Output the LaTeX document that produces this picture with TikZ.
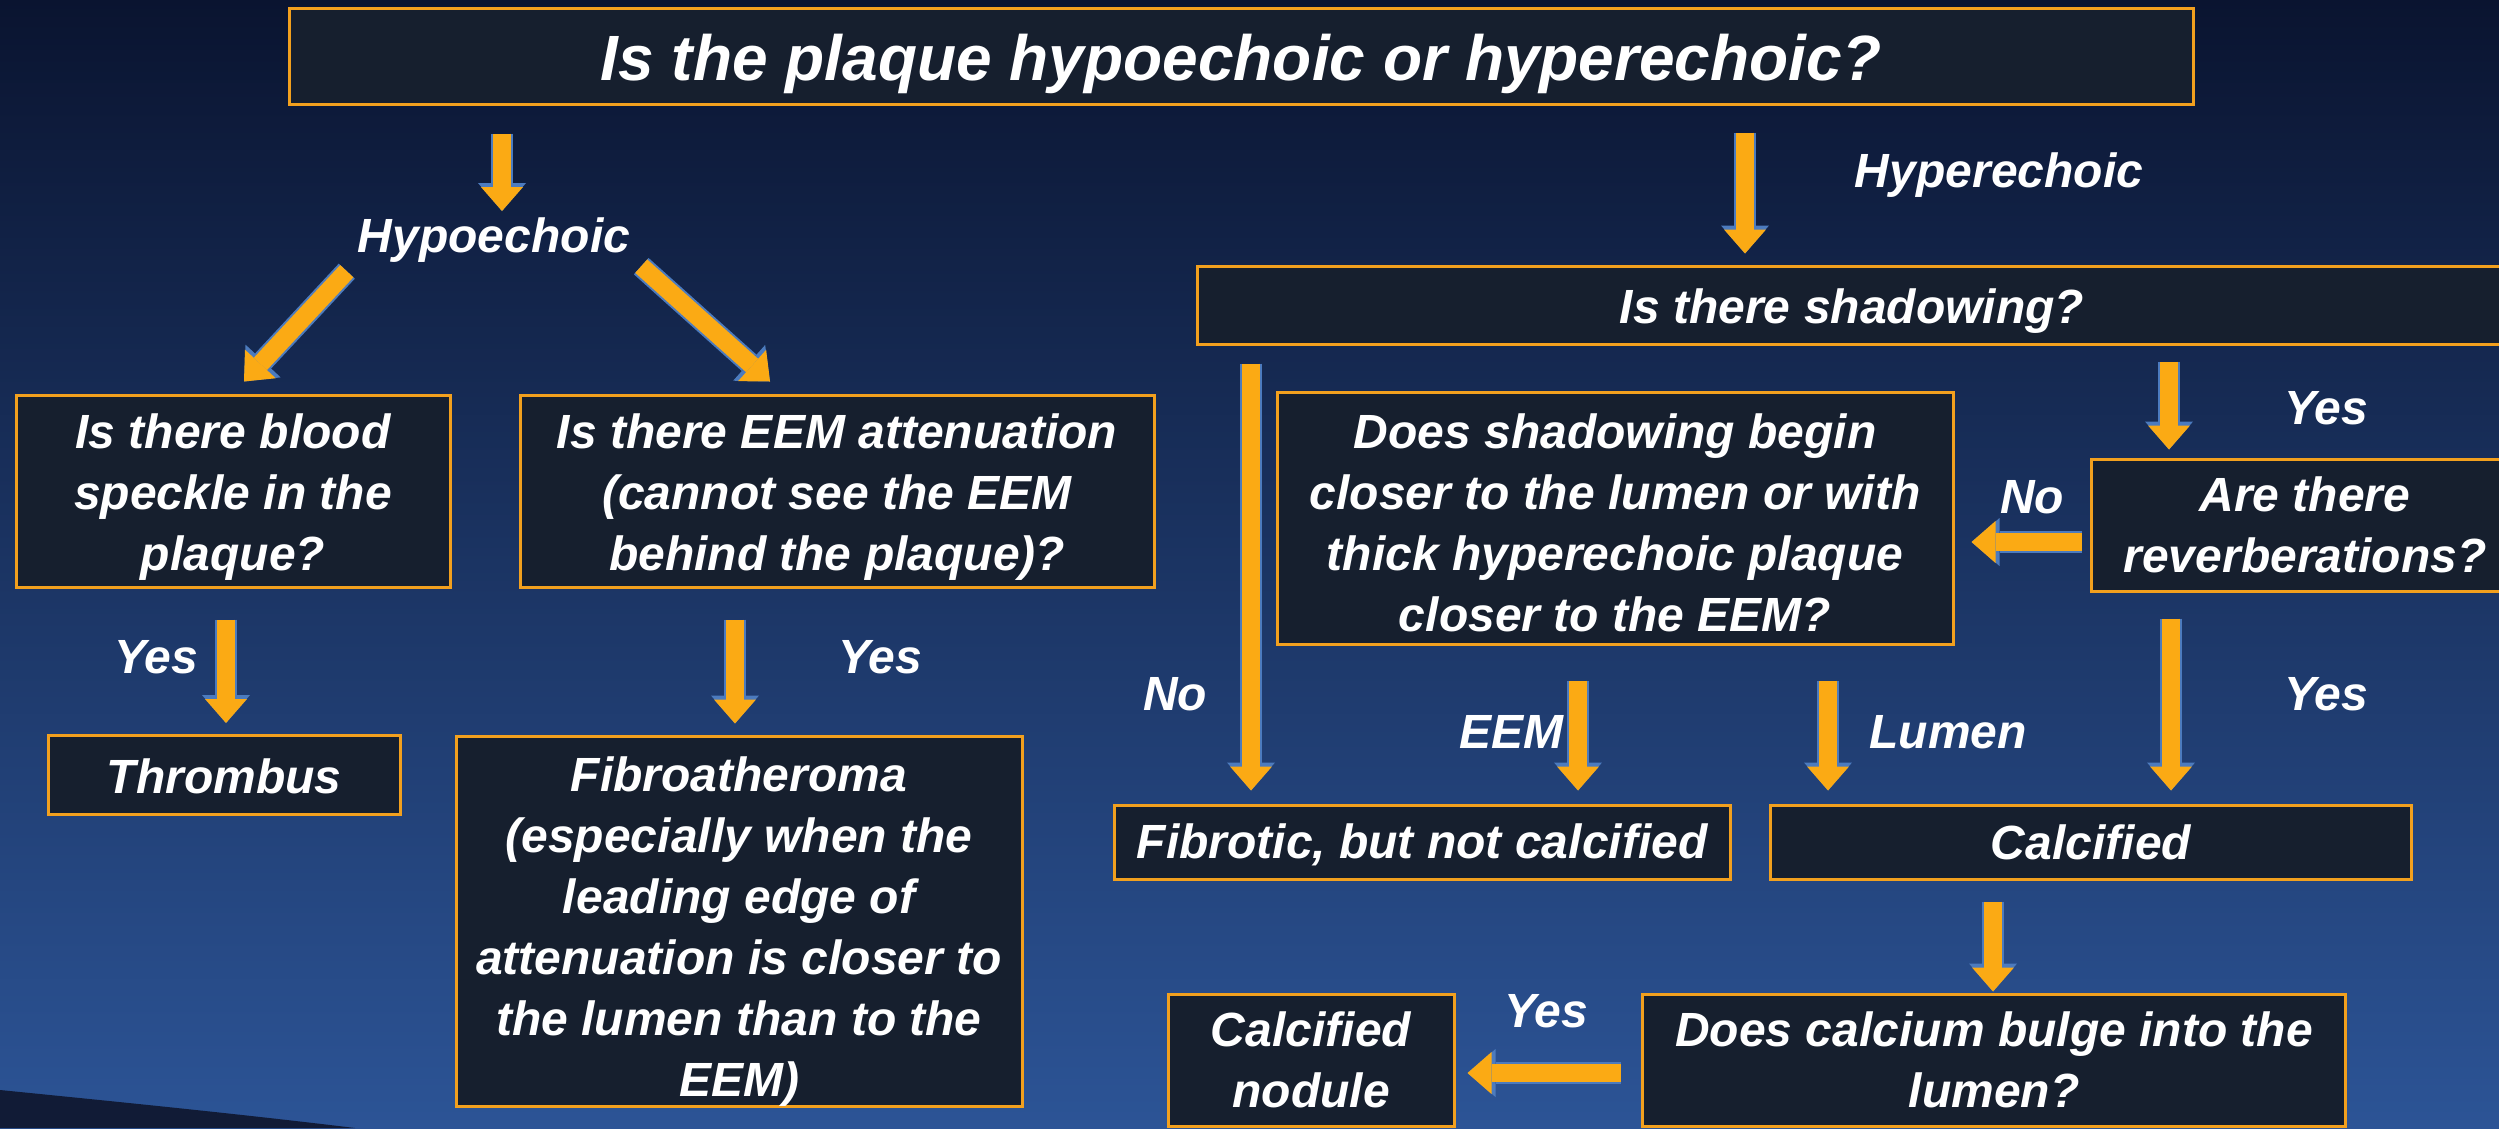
\documentclass[tikz,border=0pt]{standalone}
\usepackage{fontspec}
\setmainfont{Liberation Sans}
\usetikzlibrary{arrows.meta, positioning}

\definecolor{bgtop}{HTML}{0A1430}
\definecolor{bgmid}{HTML}{1B305F}
\definecolor{bgbot}{HTML}{2C5496}
\definecolor{swoosh}{HTML}{111B36}
\definecolor{boxfill}{HTML}{161F2E}
\definecolor{boxline}{HTML}{F2A01E}
\definecolor{arrowfill}{HTML}{FBAA14}
\definecolor{arrowedge}{HTML}{4C7BBE}

\newcommand{\bodyfont}{\fontsize{48}{61}\selectfont\bfseries\itshape}
\newcommand{\titlefont}{\fontsize{64}{76}\selectfont\bfseries\itshape}

\begin{document}
\begin{tikzpicture}[
  x=1pt, y=-1pt,
  box/.style={draw=boxline, line width=3pt, fill=boxfill, text=white, align=center, font=\bodyfont, inner sep=0pt},
  lower/.style={text height=#1},
  tag/.style={text=white, font=\bodyfont, inner sep=0pt, anchor=base},
  arrow/.style={draw=arrowfill, line width=18pt, -{Triangle[width=42pt,length=24pt,line width=0pt]},
    preaction={draw=arrowedge, line width=22pt, -{Triangle[width=48pt,length=28pt,line width=0pt]}}},
]

% Background
\useasboundingbox (0,0) rectangle (2499,1128);
\shade[top color=bgtop, middle color=bgmid, bottom color=bgbot] (0,0) rectangle (2499,1128);
\fill[swoosh] (0,1090) .. controls (120,1102) and (240,1114) .. (355,1128) -- (0,1128) -- cycle;

% Root
\node[box, font=\titlefont, lower=62pt, minimum width=1904pt, minimum height=96pt] (title) at (1241,56) {Is the plaque hypoechoic or hyperechoic?};

% Hypoechoic branch
\node[tag] (hypo) at (494,252) {Hypoechoic};
\node[box, lower=169pt, minimum width=434pt, minimum height=192pt] (speckle) at (233,491) {Is there blood\\speckle in the\\plaque?};
\node[box, lower=169pt, minimum width=634pt, minimum height=192pt] (eem) at (837,491) {Is there EEM attenuation\\(cannot see the EEM\\behind the plaque)?};
\node[tag] (yesa) at (156,673) {Yes};
\node[tag] (yesb) at (880,673) {Yes};
\node[box, lower=38pt, minimum width=352pt, minimum height=79pt] (thromb) at (224,775) {Thrombus};
\node[box, lower=360pt, minimum width=566pt, minimum height=370pt] (fibro) at (739,921) {Fibroatheroma\\(especially when the\\leading edge of\\attenuation is closer to\\the lumen than to the\\EEM)};

% Hyperechoic branch
\node[tag] (hyper) at (1999,187) {Hyperechoic};
\node[box, lower=47pt, minimum width=1310pt, minimum height=78pt] (shadow) at (1852,305) {Is there shadowing?};
\node[box, lower=228pt, minimum width=676pt, minimum height=252pt] (begin) at (1615,518) {Does shadowing begin\\closer to the lumen or with\\thick hyperechoic plaque\\closer to the EEM?};
\node[box, minimum width=428pt, minimum height=132pt] (reverb) at (2305,525) {Are there\\reverberations?};
\node[tag] (yesc) at (2326,424) {Yes};
\node[tag] (noa) at (2032,513) {No};
\node[tag] (yesd) at (2326,710) {Yes};
\node[tag] (nob) at (1175,710) {No};
\node[tag] (eemtag) at (1511,748) {EEM};
\node[tag] (lumentag) at (1948,748) {Lumen};
\node[box, lower=41pt, minimum width=616pt, minimum height=74pt] (fibrotic) at (1422,842) {Fibrotic, but not calcified};
\node[box, minimum width=641pt, minimum height=74pt] (calc) at (2091,842) {Calcified};
\node[box, minimum width=703pt, minimum height=132pt] (bulge) at (1994,1060) {Does calcium bulge into the\\lumen?};
\node[box, minimum width=286pt, minimum height=132pt] (nodule) at (1311,1060) {Calcified\\nodule};
\node[tag] (yese) at (1546,1027) {Yes};

% Connectors
\draw[arrow] ([shift={(-739,28)}]title.south) -- ([shift={(8,-6)}]hypo.north);
\draw[arrow] ([shift={(-11,9)}]hypo.south west) -- ([shift={(11,-12)}]speckle.north);
\draw[arrow] ([shift={(11,4)}]hypo.south east) -- ([shift={(-67,-12)}]eem.north);
\draw[arrow] ([shift={(-7,31)}]speckle.south) -- ([shift={(2,-11)}]thromb.north);
\draw[arrow] ([shift={(-102,31)}]eem.south) -- ([shift={(-4,-11)}]fibro.north);
\draw[arrow] ([shift={(504,27)}]title.south) -- ([shift={(-107,-11)}]shadow.north);
\draw[arrow] ([shift={(-601,18)}]shadow.south) -- ([shift={(-171,-13)}]fibrotic.north);
\draw[arrow] ([shift={(317,16)}]shadow.south) -- ([shift={(-136,-8)}]reverb.north);
\draw[arrow] ([shift={(-8,17)}]reverb.west) -- ([shift={(17,24)}]begin.east);
\draw[arrow] ([shift={(-134,26)}]reverb.south) -- ([shift={(80,-13)}]calc.north);
\draw[arrow] ([shift={(-37,35)}]begin.south) -- ([shift={(156,-13)}]fibrotic.north);
\draw[arrow] ([shift={(213,35)}]begin.south) -- ([shift={(-263,-13)}]calc.north);
\draw[arrow] ([shift={(-98,21)}]calc.south) -- ([shift={(-1,-1)}]bulge.north);
\draw[arrow] ([shift={(-20,13)}]bulge.west) -- ([shift={(12,13)}]nodule.east);

\end{tikzpicture}
\end{document}
